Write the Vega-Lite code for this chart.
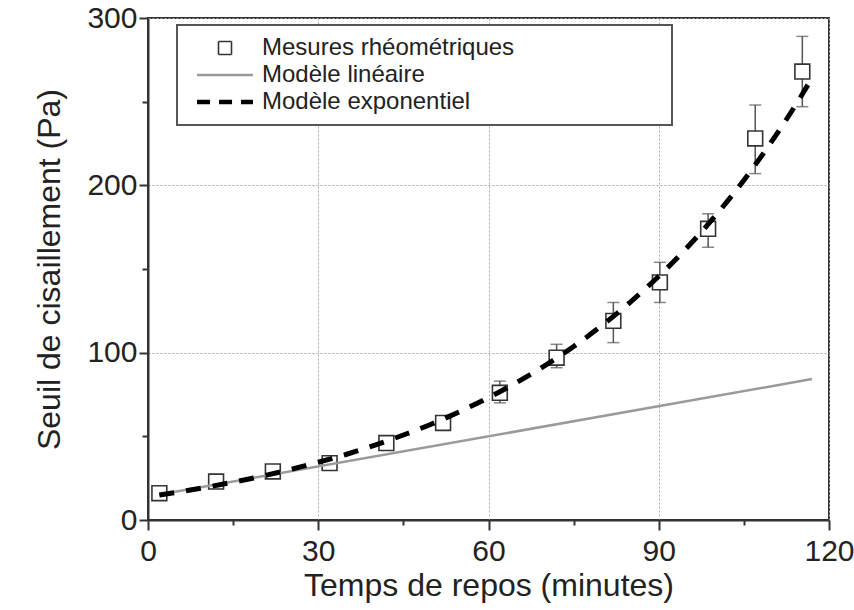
{
  "$schema": "https://vega.github.io/schema/vega-lite/v6.json",
  "autosize": "none",
  "width": 681,
  "height": 502,
  "padding": {"left": 148, "top": 18, "right": 25, "bottom": 90},
  "background": "white",
  "datasets": {
    "mesures": [
      {"t": 2, "y": 16, "lo": 14, "hi": 18, "serie": "Mesures rhéométriques"},
      {"t": 12, "y": 23, "lo": 21, "hi": 25, "serie": "Mesures rhéométriques"},
      {"t": 22, "y": 29, "lo": 27, "hi": 31, "serie": "Mesures rhéométriques"},
      {"t": 32, "y": 34, "lo": 32, "hi": 36, "serie": "Mesures rhéométriques"},
      {"t": 42, "y": 46, "lo": 44, "hi": 48, "serie": "Mesures rhéométriques"},
      {"t": 52, "y": 58, "lo": 56, "hi": 60, "serie": "Mesures rhéométriques"},
      {"t": 62, "y": 76, "lo": 70, "hi": 83, "serie": "Mesures rhéométriques"},
      {"t": 72, "y": 97, "lo": 91, "hi": 105, "serie": "Mesures rhéométriques"},
      {"t": 82, "y": 119, "lo": 106, "hi": 130, "serie": "Mesures rhéométriques"},
      {"t": 90.2, "y": 142, "lo": 130, "hi": 154, "serie": "Mesures rhéométriques"},
      {"t": 98.7, "y": 174, "lo": 163, "hi": 183, "serie": "Mesures rhéométriques"},
      {"t": 107, "y": 228, "lo": 207, "hi": 248, "serie": "Mesures rhéométriques"},
      {"t": 115.3, "y": 268, "lo": 247, "hi": 289, "serie": "Mesures rhéométriques"}
    ],
    "lineaire": [
      {"t": 2, "y": 15.2},
      {"t": 117, "y": 84.2}
    ],
    "exponentiel": [
      {"t": 2, "y": 14.9}, {"t": 5, "y": 16.5}, {"t": 10, "y": 19.4}, {"t": 15, "y": 22.6},
      {"t": 20, "y": 26.1}, {"t": 25, "y": 30.1}, {"t": 30, "y": 34.5}, {"t": 35, "y": 39.3},
      {"t": 40, "y": 44.8}, {"t": 45, "y": 50.8}, {"t": 50, "y": 57.4}, {"t": 55, "y": 64.9},
      {"t": 60, "y": 73.1}, {"t": 65, "y": 82.3}, {"t": 70, "y": 92.4}, {"t": 75, "y": 103.7},
      {"t": 80, "y": 116.3}, {"t": 85, "y": 130.2}, {"t": 90, "y": 145.7}, {"t": 95, "y": 162.8},
      {"t": 100, "y": 181.9}, {"t": 105, "y": 203.1}, {"t": 110, "y": 226.7}, {"t": 115, "y": 252.8},
      {"t": 117, "y": 264.1}
    ]
  },
  "encoding": {
    "x": {
      "field": "t", "type": "quantitative",
      "scale": {"domain": [0, 120], "nice": false, "zero": false},
      "title": "Temps de repos (minutes)",
      "axis": {
        "values": [0, 15, 30, 45, 60, 75, 90, 105, 120],
        "labelExpr": "datum.value % 30 === 0 ? datum.label : ''",
        "tickSize": {"condition": {"test": "datum.value % 30 === 0", "value": 10}, "value": 5},
        "gridOpacity": {"condition": {"test": "datum.value % 30 === 0", "value": 1}, "value": 0},
        "labelPadding": 6,
        "titlePadding": 4
      }
    }
  },
  "layer": [
    {
      "data": {"name": "mesures"},
      "mark": {"type": "errorbar", "ticks": {"size": 12, "thickness": 1.5, "color": "#555"}, "rule": {"strokeWidth": 1.5, "color": "#555"}, "color": "#555"},
      "encoding": {
        "y": {
          "field": "lo", "type": "quantitative",
          "scale": {"domain": [0, 300], "nice": false},
          "title": "Seuil de cisaillement (Pa)",
          "axis": {
            "values": [0, 50, 100, 150, 200, 250, 300],
            "labelExpr": "datum.value % 100 === 0 ? datum.label : ''",
            "tickSize": {"condition": {"test": "datum.value % 100 === 0", "value": 9}, "value": 6},
            "gridOpacity": {"condition": {"test": "datum.value % 100 === 0", "value": 1}, "value": 0},
            "labelPadding": 2,
            "titlePadding": 20
          }
        },
        "y2": {"field": "hi"}
      }
    },
    {
      "data": {"name": "mesures"},
      "mark": {"type": "point", "filled": false, "fill": "white", "fillOpacity": 1, "size": 220, "opacity": 1},
      "encoding": {
        "y": {
          "field": "y", "type": "quantitative",
          "scale": {"domain": [0, 300], "nice": false},
          "title": "Seuil de cisaillement (Pa)",
          "axis": {
            "values": [0, 50, 100, 150, 200, 250, 300],
            "labelExpr": "datum.value % 100 === 0 ? datum.label : ''",
            "tickSize": {"condition": {"test": "datum.value % 100 === 0", "value": 9}, "value": 6},
            "gridOpacity": {"condition": {"test": "datum.value % 100 === 0", "value": 1}, "value": 0},
            "labelPadding": 2,
            "titlePadding": 20
          }
        },
        "color": {
          "field": "serie", "type": "nominal",
          "scale": {"domain": ["Mesures rhéométriques", "Modèle linéaire", "Modèle exponentiel"], "range": ["#333333", "#9a9a9a", "#000000"]},
          "legend": {
            "orient": "none", "legendX": 29, "legendY": 7,
            "title": null,
            "padding": 11,
            "rowPadding": 3,
            "symbolOffset": 25,
            "labelOffset": 25,
            "symbolSize": 169,
            "labelLimit": 700,
            "labelExpr": "datum.label + '\u00a0\u00a0\u00a0\u00a0\u00a0\u00a0\u00a0\u00a0\u00a0\u00a0\u00a0\u00a0\u00a0\u00a0\u00a0\u00a0\u00a0\u00a0\u00a0\u00a0\u00a0\u00a0\u200b'",
            "strokeColor": "#555",
            "fillColor": "white"
          }
        },
        "shape": {
          "field": "serie", "type": "nominal",
          "scale": {"domain": ["Mesures rhéométriques", "Modèle linéaire", "Modèle exponentiel"], "range": ["square", "M-4.3,0H4.3", "M-4.3,0H4.3"]}
        },
        "strokeDash": {
          "field": "serie", "type": "nominal",
          "scale": {"domain": ["Mesures rhéométriques", "Modèle linéaire", "Modèle exponentiel"], "range": [[1, 0], [1, 0], [13, 9]]}
        },
        "strokeWidth": {
          "field": "serie", "type": "nominal",
          "scale": {"type": "ordinal", "domain": ["Mesures rhéométriques", "Modèle linéaire", "Modèle exponentiel"], "range": [1.6, 2.5, 4.5]}
        }
      }
    },
    {
      "data": {"name": "lineaire"},
      "mark": {"type": "line", "color": "#9a9a9a", "strokeWidth": 2.5},
      "encoding": {
        "y": {
          "field": "y", "type": "quantitative",
          "scale": {"domain": [0, 300], "nice": false},
          "title": "Seuil de cisaillement (Pa)",
          "axis": {
            "values": [0, 50, 100, 150, 200, 250, 300],
            "labelExpr": "datum.value % 100 === 0 ? datum.label : ''",
            "tickSize": {"condition": {"test": "datum.value % 100 === 0", "value": 9}, "value": 6},
            "gridOpacity": {"condition": {"test": "datum.value % 100 === 0", "value": 1}, "value": 0},
            "labelPadding": 2,
            "titlePadding": 20
          }
        }
      }
    },
    {
      "data": {"name": "exponentiel"},
      "mark": {"type": "line", "color": "#000000", "strokeWidth": 5, "strokeDash": [15, 12], "interpolate": "monotone"},
      "encoding": {
        "y": {
          "field": "y", "type": "quantitative",
          "scale": {"domain": [0, 300], "nice": false},
          "title": "Seuil de cisaillement (Pa)",
          "axis": {
            "values": [0, 50, 100, 150, 200, 250, 300],
            "labelExpr": "datum.value % 100 === 0 ? datum.label : ''",
            "tickSize": {"condition": {"test": "datum.value % 100 === 0", "value": 9}, "value": 6},
            "gridOpacity": {"condition": {"test": "datum.value % 100 === 0", "value": 1}, "value": 0},
            "labelPadding": 2,
            "titlePadding": 20
          }
        }
      }
    }
  ],
  "config": {
    "font": "Liberation Sans",
    "view": {"stroke": "#333333", "strokeWidth": 2},
    "axis": {
      "labelFont": "Liberation Sans",
      "labelFontSize": 30,
      "labelColor": "#222222",
      "titleFont": "Liberation Sans",
      "titleFontSize": 32,
      "titleFontWeight": "normal",
      "titleColor": "#222222",
      "domainColor": "#333333",
      "domainWidth": 2,
      "tickColor": "#333333",
      "tickWidth": 2,
      "gridColor": "#aaaaaa",
      "gridDash": [2, 2],
      "gridWidth": 1,
      "labelFlush": false,
      "labelOverlap": false
    },
    "legend": {
      "labelFont": "Liberation Sans",
      "labelFontSize": 24,
      "labelColor": "#222222",
      "strokeWidth": 2
    }
  }
}
